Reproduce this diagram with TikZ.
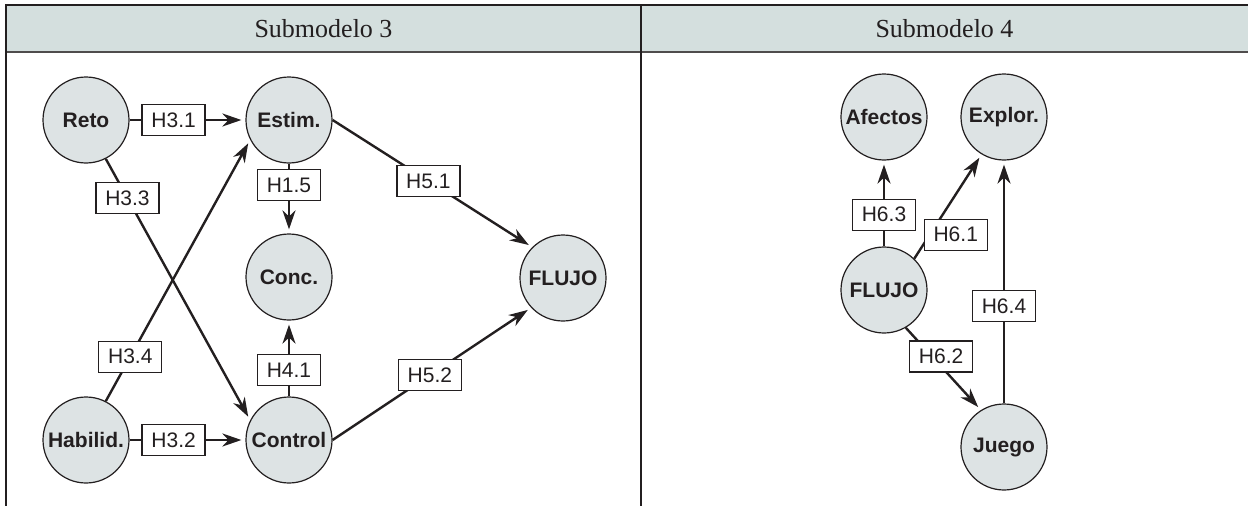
\documentclass[tikz,border=0pt]{standalone}
\usepackage{fontspec}
\setmainfont{Liberation Serif}
\setsansfont{Liberation Sans}
\usetikzlibrary{arrows.meta}
\definecolor{headfill}{RGB}{212,223,222}
\definecolor{nodefill}{RGB}{221,227,228}
\definecolor{ink}{RGB}{35,31,32}

\begin{document}
\begin{tikzpicture}[x=1pt,y=-1pt,
  var/.style={circle, draw=ink, line width=1.2pt, fill=nodefill, minimum size=86pt,
    inner sep=0pt, font=\sffamily\bfseries\fontsize{21}{24}\selectfont, text=ink},
  hyp/.style={draw=ink, line width=1.3pt, fill=white, minimum width=63pt,
    minimum height=31pt, inner sep=0pt, font=\sffamily\fontsize{21}{24}\selectfont, text=ink},
  link/.style={draw=ink, line width=2.4pt},
  arrowlink/.style={link, -{Stealth[length=19pt,width=13pt,inset=6pt]}, shorten >=4pt},
  colhead/.style={font=\fontsize{26}{30}\selectfont, text=ink}
]
\useasboundingbox (0,0) rectangle (1248,506);

% table header and column rules
\fill[headfill] (6,5) rectangle (1248,52);
\draw[line width=2pt, ink] (5,5) -- (1248,5);
\draw[line width=2.5pt, ink!80] (6,52) -- (1248,52);
\draw[line width=1.5pt, ink] (6,4) -- (6,506);
\draw[line width=1.5pt, ink] (641,4) -- (641,506);
\node[colhead] (h3) at (323.5,29) {Submodelo 3};
\node[colhead] (h4) at (944.5,29) {Submodelo 4};

% Submodelo 3
\node[var] (reto)    at (86,120)  {Reto};
\node[var] (estim)   at (289,120) {Estim.};
\node[var] (conc)    at (289,277) {Conc.};
\node[var] (control) at (289,440) {Control};
\node[var] (habil)   at (86,440)  {Habilid.};
\node[var] (flujoA)  at (563,278) {FLUJO};

\draw[arrowlink] (reto) -- node[hyp,pos=0.38] (l31) {H3.1} (estim);
\draw[arrowlink] (habil) -- node[hyp,pos=0.38] (l32) {H3.2} (control);
\draw[arrowlink] (estim) -- node[hyp,pos=0.31] (l15) {H1.5} (conc);
\draw[arrowlink] (control) -- node[hyp,pos=0.35] (l41) {H4.1} (conc);
\draw[arrowlink] (reto.-63) -- node[hyp,pos=0.15] (l33) {H3.3} (control.153);
\draw[arrowlink] (habil.63) -- node[hyp,pos=0.17] (l34) {H3.4} (estim.207);
\draw[arrowlink] (estim.east) -- node[hyp,pos=0.48] (l51) {H5.1} (flujoA.135);
\draw[arrowlink] (control.east) -- node[hyp,pos=0.49] (l52) {H5.2} (flujoA.-137);

% Submodelo 4
\node[var] (afectos) at (884,117)  {Afectos};
\node[var] (explor)  at (1004,117) {Explor.};
\node[var] (flujoB)  at (884,290)  {FLUJO};
\node[var] (juego)   at (1004,447) {Juego};

\draw[arrowlink] (flujoB) -- node[hyp,pos=0.37] (l63) {H6.3} (afectos);
\draw[arrowlink] (flujoB.46) -- node[hyp,pos=0.23,xshift=26pt] (l61) {H6.1} (explor.-121);
\draw[arrowlink] (flujoB.-60) -- node[hyp,pos=0.35,xshift=9pt] (l62) {H6.2} (juego.122);
\draw[arrowlink] (juego) -- node[hyp,pos=0.40] (l64) {H6.4} (explor);
\end{tikzpicture}
\end{document}
